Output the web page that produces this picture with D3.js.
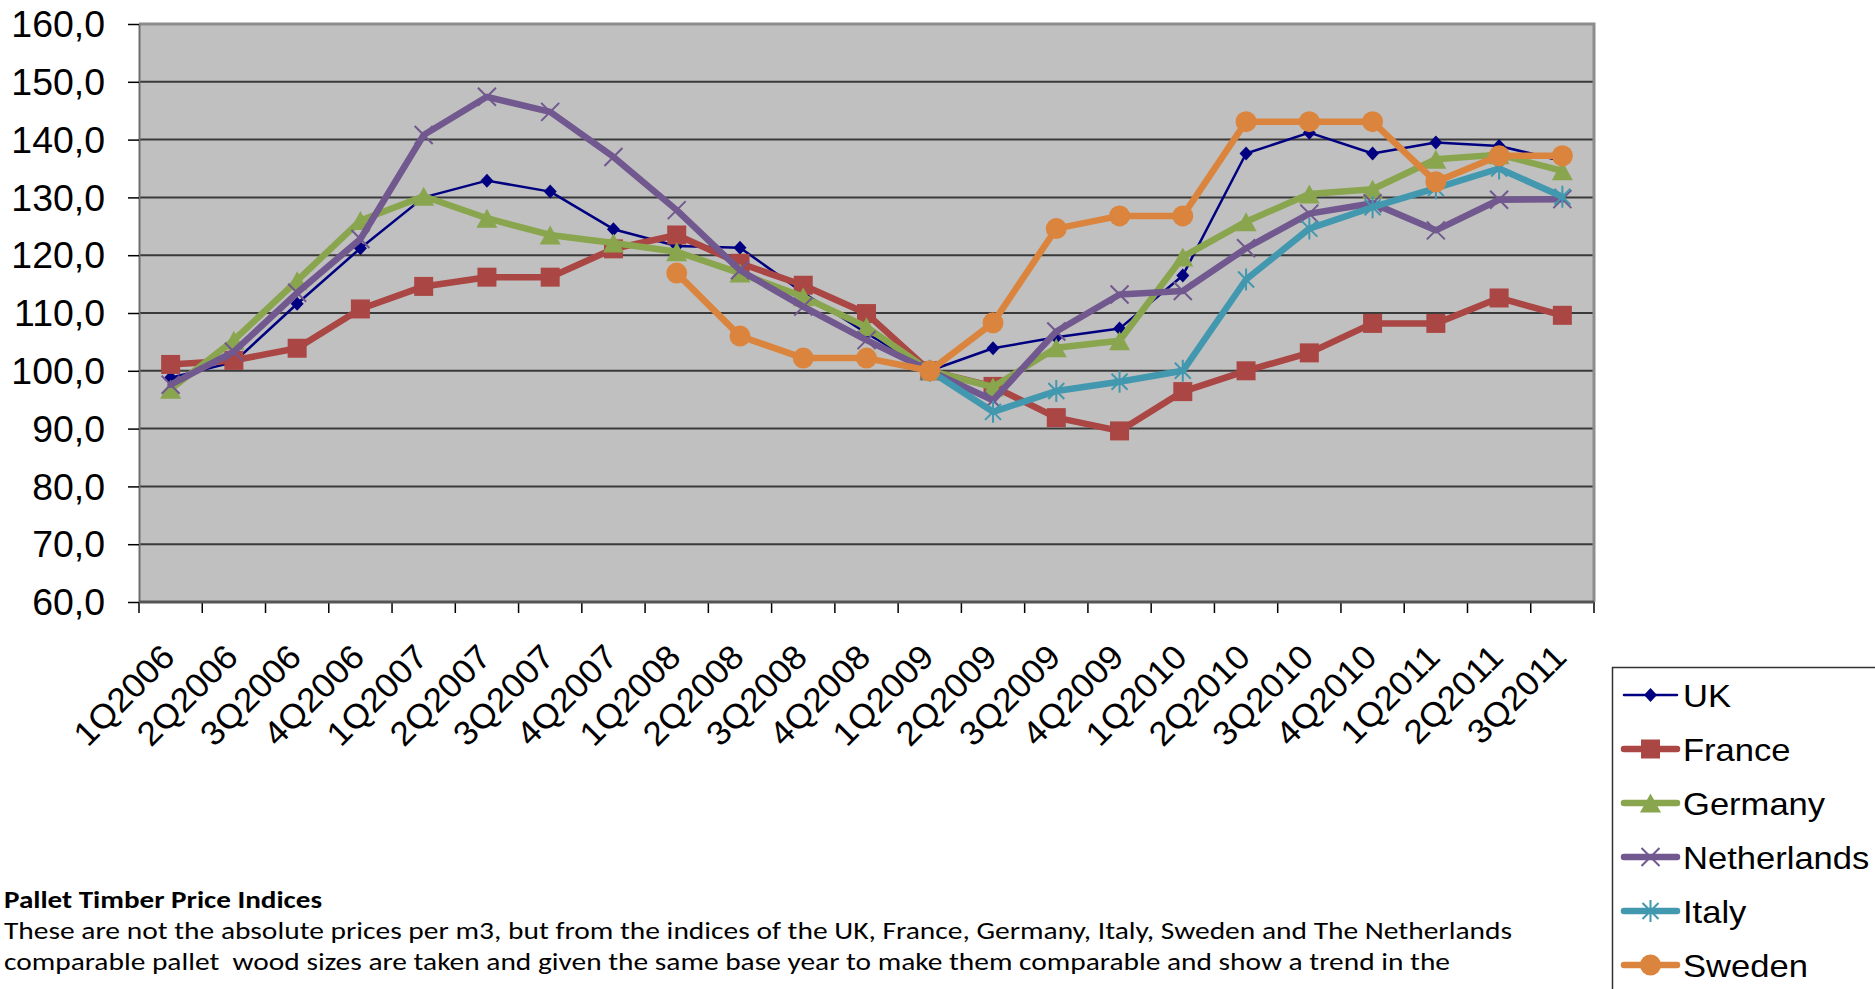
<!DOCTYPE html>
<html>
<head>
<meta charset="utf-8">
<script src="https://cdnjs.cloudflare.com/ajax/libs/d3/7.8.5/d3.min.js"></script>
<style>
  html, body { margin: 0; padding: 0; background: #fff; overflow: hidden; }
  svg { display: block; }
</style>
</head>
<body>
<svg id="chart" width="1875" height="989"></svg>
<script>
// categories and tick values
var quarters = ["1Q2006", "2Q2006", "3Q2006", "4Q2006", "1Q2007", "2Q2007", "3Q2007", "4Q2007",
                "1Q2008", "2Q2008", "3Q2008", "4Q2008", "1Q2009", "2Q2009", "3Q2009", "4Q2009",
                "1Q2010", "2Q2010", "3Q2010", "4Q2010", "1Q2011", "2Q2011", "3Q2011"];
var yTicks = [60, 70, 80, 90, 100, 110, 120, 130, 140, 150, 160];

// series values (index, 1Q2009 = 100)
var uk          = [98.8, 101.5, 111.6, 121.2, 130.0, 132.9, 131.0, 124.5, 121.6, 121.3, 113.5, 106.5,
                   100.0, 103.9, 105.8, 107.3, 116.5, 137.6, 141.2, 137.6, 139.5, 138.9, 136.3];
var france      = [101.1, 101.8, 103.9, 110.7, 114.6, 116.2, 116.2, 121.1, 123.5, 118.6, 114.8, 109.9,
                   100.0, 97.3, 91.9, 89.6, 96.4, 100.0, 103.1, 108.2, 108.2, 112.6, 109.6];
var germany     = [96.8, 105.3, 115.6, 126.0, 130.2, 126.4, 123.5, 122.1, 120.6, 116.9, 112.8, 107.6,
                   100.0, 97.2, 104.0, 105.2, 119.7, 125.8, 130.6, 131.4, 136.6, 137.4, 134.6];
var netherlands = [97.6, 103.3, 113.5, 122.8, 140.8, 147.4, 144.8, 137.0, 127.8, 117.4, 111.1, 105.3,
                   100.0, 94.9, 106.8, 113.2, 113.8, 121.2, 127.2, 129.0, 124.3, 129.6, 129.7];
var italy       = [null, null, null, null, null, null, null, null, null, null, null, null,
                   100.0, 92.9, 96.5, 98.1, 100.0, 115.8, 124.6, 128.3, 131.6, 135.0, 130.1];
var sweden      = [null, null, null, null, null, null, null, null, 116.9, 106.0, 102.2, 102.2,
                   100.0, 108.3, 124.6, 126.8, 126.8, 143.1, 143.1, 143.1, 132.7, 137.2, 137.2];

var seriesNames = ["UK", "France", "Germany", "Netherlands", "Italy", "Sweden"];

var series = [
    { name: seriesNames[0], values: uk,          color: "#000080", width: 2.5, marker: "diamond" },
    { name: seriesNames[1], values: france,      color: "#AA4643", width: 6.5, marker: "square" },
    { name: seriesNames[2], values: germany,     color: "#89A54E", width: 6.5, marker: "triangle" },
    { name: seriesNames[3], values: netherlands, color: "#71588F", width: 6.5, marker: "x" },
    { name: seriesNames[4], values: italy,       color: "#4198AF", width: 6.5, marker: "star" },
    { name: seriesNames[5], values: sweden,      color: "#DB843D", width: 6.5, marker: "circle" }
];

// plot area (names avoid window.top etc.)
var plotL = 139, plotR = 1594, plotT = 24, plotB = 602;

var svg = d3.select("#chart");
svg.append("rect").attr("width", 1875).attr("height", 989).attr("fill", "#fff");

var x = d3.scaleBand().domain(quarters).range([plotL, plotR]);
var y = d3.scaleLinear().domain([60, 160]).range([plotB, plotT]);

// background
svg.append("rect")
    .attr("x", plotL).attr("y", plotT)
    .attr("width", plotR - plotL).attr("height", plotB - plotT)
    .attr("fill", "#C0C0C0");

// gridlines
svg.append("g").selectAll("line")
    .data(yTicks.filter(function (d) { return d > 60 && d < 160; }))
    .enter().append("line")
    .attr("x1", plotL).attr("x2", plotR)
    .attr("y1", function (d) { return y(d); })
    .attr("y2", function (d) { return y(d); })
    .attr("stroke", "#3a3a3a")
    .attr("stroke-width", 2);

// plot border (top / right)
svg.append("path")
    .attr("d", "M" + plotL + "," + plotT + "H" + plotR + "V" + plotB)
    .attr("fill", "none")
    .attr("stroke", "#8c8c8c")
    .attr("stroke-width", 3);

// y axis
var yAxis = svg.append("g")
    .attr("transform", "translate(" + plotL + ",0)")
    .call(d3.axisLeft(y).tickValues(yTicks).tickSize(11).tickSizeOuter(0)
        .tickFormat(function (d) { return d.toFixed(1).replace(".", ","); }));
yAxis.select(".domain").attr("stroke", "#6e6e6e").attr("stroke-width", 2);
yAxis.selectAll(".tick line").attr("stroke", "#000").attr("stroke-width", 1.5);
yAxis.selectAll(".tick text")
    .attr("x", 0)
    .attr("dy", "0.35em")
    .attr("transform", "translate(-34,0) scale(1.04,1)")
    .attr("font-family", "Liberation Sans, Arial, sans-serif")
    .attr("font-size", "36px")
    .attr("fill", "#000");

// x axis: labels at centres, ticks at band edges
var xAxis = svg.append("g")
    .attr("transform", "translate(0," + plotB + ")")
    .call(d3.axisBottom(x).tickSize(0).tickSizeOuter(0));
xAxis.select(".domain").remove();
xAxis.selectAll(".tick text")
    .attr("x", 0).attr("y", 0).attr("dy", 0)
    .attr("text-anchor", "end")
    .attr("transform", "translate(6,57) rotate(-45) scale(1.04,1)")
    .attr("font-family", "Liberation Sans, Arial, sans-serif")
    .attr("font-size", "34px")
    .attr("fill", "#000");

var edges = d3.range(quarters.length + 1).map(function (i) { return x.range()[0] + i * x.step(); });
svg.append("g").selectAll("line")
    .data(edges)
    .enter().append("line")
    .attr("x1", function (d) { return d; }).attr("x2", function (d) { return d; })
    .attr("y1", plotB).attr("y2", plotB + 11)
    .attr("stroke", "#000").attr("stroke-width", 1.5);

svg.append("line")
    .attr("x1", plotL).attr("x2", plotR)
    .attr("y1", plotB).attr("y2", plotB)
    .attr("stroke", "#555").attr("stroke-width", 3);

// marker shapes
function markerPath(type) {
    if (type === "diamond") return "M0,-7L6.5,0L0,7L-6.5,0Z";
    if (type === "square") return "M-9.5,-9.5H9.5V9.5H-9.5Z";
    if (type === "triangle") return "M0,-9.5L10.5,9.5L-10.5,9.5Z";
    if (type === "x") return "M-9,-9L9,9M-9,9L9,-9";
    if (type === "star") return "M-8,-8L8,8M-8,8L8,-8M0,-11V11";
    return d3.symbol().type(d3.symbolCircle).size(Math.PI * 10.5 * 10.5)();
}
function isStroked(type) { return type === "x" || type === "star"; }

function drawMarker(sel, s) {
    sel.append("path")
        .attr("d", markerPath(s.marker))
        .attr("fill", isStroked(s.marker) ? "none" : s.color)
        .attr("stroke", s.color)
        .attr("stroke-width", isStroked(s.marker) ? 2 : 0);
}

var line = d3.line()
    .defined(function (d) { return d != null; })
    .x(function (d, i) { return x(quarters[i]) + x.bandwidth() / 2; })
    .y(function (d) { return y(d); });

series.forEach(function (s) {
    var g = svg.append("g");
    g.append("path")
        .attr("d", line(s.values))
        .attr("fill", "none")
        .attr("stroke", s.color)
        .attr("stroke-width", s.width)
        .attr("stroke-linejoin", "round")
        .attr("stroke-linecap", "round");
    g.selectAll("g.m")
        .data(s.values.map(function (v, i) { return { v: v, q: quarters[i] }; })
            .filter(function (d) { return d.v != null; }))
        .enter().append("g")
        .attr("class", "m")
        .attr("transform", function (d) {
            return "translate(" + (x(d.q) + x.bandwidth() / 2) + "," + y(d.v) + ")";
        })
        .each(function () { drawMarker(d3.select(this), s); });
});

// legend
var legend = svg.append("g");
legend.append("rect")
    .attr("x", 1612.5).attr("y", 667.5)
    .attr("width", 320).attr("height", 400)
    .attr("fill", "#fff")
    .attr("stroke", "#333").attr("stroke-width", 1.5);

var rows = legend.selectAll("g.row")
    .data(series)
    .enter().append("g")
    .attr("class", "row")
    .attr("transform", function (d, i) { return "translate(0," + (695 + i * 54) + ")"; });
rows.append("line")
    .attr("x1", 1624).attr("x2", 1677)
    .attr("stroke", function (d) { return d.color; })
    .attr("stroke-width", function (d) { return d.width; })
    .attr("stroke-linecap", "round");
rows.append("g")
    .attr("transform", "translate(1650.5,0)")
    .each(function (d) { drawMarker(d3.select(this), d); });
rows.append("text")
    .attr("transform", "translate(1683,11.5) scale(1.08,1)")
    .attr("font-family", "Liberation Sans, Arial, sans-serif")
    .attr("font-size", "32px")
    .attr("fill", "#000")
    .text(function (d) { return d.name; });

// caption below the chart
var noteFont = "Carlito, Calibri, Lato, 'Open Sans', sans-serif";
svg.append("text")
    .attr("x", 4).attr("y", 908)
    .attr("font-family", noteFont)
    .attr("font-size", "25px")
    .attr("font-weight", "bold")
    .attr("textLength", 318)
    .attr("lengthAdjust", "spacingAndGlyphs")
    .text("Pallet Timber Price Indices");
svg.append("text")
    .attr("x", 4).attr("y", 939)
    .attr("font-family", noteFont)
    .attr("font-size", "25px")
    .attr("textLength", 1508)
    .attr("lengthAdjust", "spacingAndGlyphs")
    .text("These are not the absolute prices per m3, but from the indices of the UK, France, Germany, Italy, Sweden and The Netherlands");
svg.append("text")
    .attr("x", 4).attr("y", 970)
    .attr("font-family", noteFont)
    .attr("font-size", "25px")
    .attr("textLength", 1446)
    .attr("lengthAdjust", "spacingAndGlyphs")
    .attr("xml:space", "preserve")
    .text("comparable pallet  wood sizes are taken and given the same base year to make them comparable and show a trend in the");
</script>
</body>
</html>
